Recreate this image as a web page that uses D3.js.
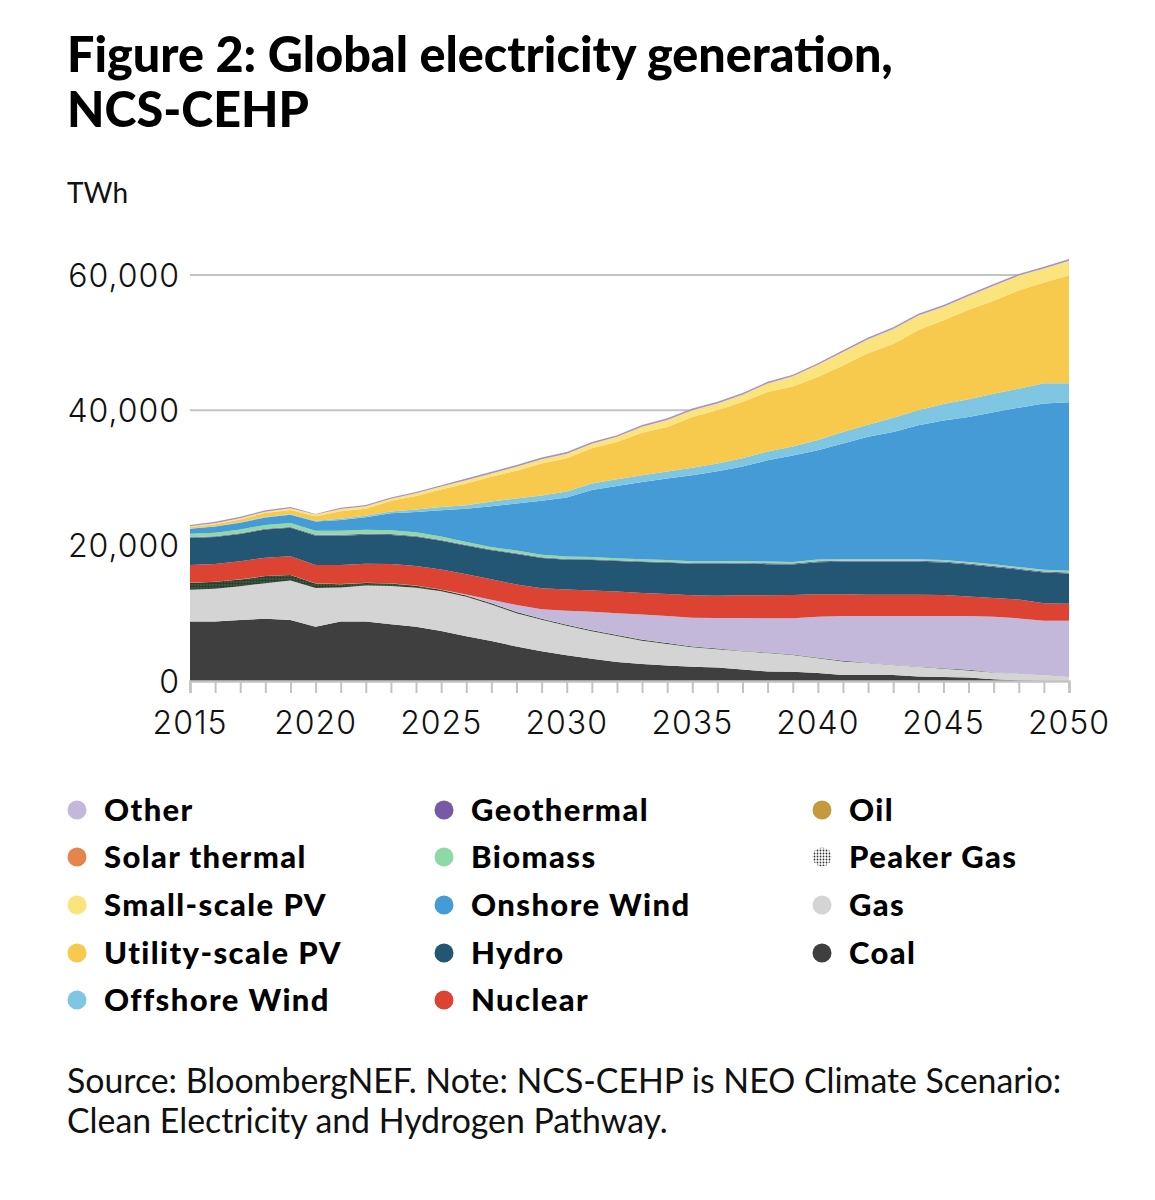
<!DOCTYPE html>
<html><head><meta charset="utf-8">
<script src="https://cdn.jsdelivr.net/npm/d3@7"></script>
<style>body{margin:0;background:#fff}</style>
</head><body><svg id="c" width="1155" height="1200"></svg>
<script>
// ---- data (TWh) ----
const years = d3.range(2015, 2051);
const coal = [8800,8800,9000,9200,9000,8000,8800,8800,8400,8000, 7400,6600,5900,5100,4400,3800,3300,2800,2500,2300, 2100,2000,1700,1400,1350,1200,900,900,900,650, 600,500,250,100,50,0];
const gas = [4700,4850,5000,5250,5850,5750,5000,5300,5650,5770, 5850,5850,5400,4900,4650,4350,4050,3850,3450,3180, 2900,2700,2700,2750,2500,2150,2000,1750,1470,1450, 1200,1050,1020,950,800,600];
const peakerGas = [1000,1000,1000,1050,800,650,500,400,350,300, 250,200,200,200,150,150,150,150,150,120, 100,100,50,50,50,100,100,50,30,50, 100,100,30,0,0,0];
const oil = [30,30,30,30,30,30,30,30,30,30, 20,20,20,20,20,20,20,20,20,20, 10,10,10,10,10,10,10,10,10,10, 0,0,0,0,0,0];
const other = [0,0,0,0,0,0,0,0,0,0, 0,100,500,1000,1400,2050,2700,3200,3700,4000, 4250,4500,4850,5050,5350,6050,6600,6900,7200,7450, 7700,7950,8200,8200,8050,8300];
const nuclear = [2600,2600,2650,2700,2750,2700,2800,2800,2850,2900, 2950,3000,3000,3050,3100,3150,3150,3200,3200,3250, 3300,3300,3350,3400,3450,3300,3200,3150,3150,3150, 3100,2900,2750,2800,2600,2500];
const hydro = [4000,4000,4050,4150,4200,4350,4350,4300,4300,4300, 4250,4200,4300,4500,4450,4400,4500,4500,4550,4600, 4650,4700,4700,4600,4500,4750,4800,4850,4850,4850, 4800,4700,4600,4400,4550,4500];
const geothermal = [120,120,120,120,130,130,130,130,130,130, 130,120,100,100,120,120,120,120,120,130, 130,130,130,140,140,150,150,150,150,150, 150,150,150,150,150,150];
const biomass = [500,520,550,570,600,600,600,600,580,550, 500,450,400,400,380,350,330,300,300,280, 270,270,250,250,250,250,250,250,250,250, 250,250,250,250,250,250];
const onshoreWind = [750,900,1000,1100,1200,1350,1600,1850,2500,3000, 3900,4900,6000,6950,7950,8730,9900,10680,11430,12040, 12700,13300,13970,14960,15710,16150,17100,18100,18800,19800, 20600,21400,22450,23550,24550,24900];
const offshoreWind = [50,50,70,80,100,120,150,200,250,350, 450,550,700,750,800,900,950,1000,1000,1050, 1100,1150,1200,1300,1350,1500,1700,1750,2100,2200, 2450,2650,2750,2800,3000,2800];
const utilityPV = [200,300,400,550,600,650,1100,1050,1600,2000, 2600,3200,3650,4100,4700,4900,5200,5500,6250,6550, 7500,7850,8300,8800,8850,9300,9800,10550,10900,11800, 12350,13150,13750,14500,14900,15900];
const solarThermal = [10,10,10,10,10,10,10,10,10,10, 10,10,10,10,10,10,10,10,10,10, 10,10,10,10,10,10,10,10,10,10, 10,10,10,10,10,10];
const smallPV = [100,150,180,220,250,250,350,350,300,400, 420,480,500,600,650,650,700,750,900,1050, 1000,1000,1100,1250,1500,1800,2000,2100,2200,2200, 2000,2100,2200,2200,2050,2200];
const otherTop = [180,200,200,200,200,100,200,200,150,200, 200,250,250,250,250,250,250,250,250,250, 250,250,250,250,250,250,250,250,250,250, 250,250,250,250,250,250];
const yTicks = [0, 20000, 40000, 60000];
const xTickLabels = [2015, 2020, 2025, 2030, 2035, 2040, 2045, 2050];

const seriesDefs = [
  {key:"Coal", vals:coal, color:"#3f3f3f"},
  {key:"Gas", vals:gas, color:"#d4d4d4"},
  {key:"Peaker Gas", vals:peakerGas, color:"url(#peakerFill)"},
  {key:"Oil", vals:oil, color:"#c49a3c"},
  {key:"Other", vals:other, color:"#c3b8da"},
  {key:"Nuclear", vals:nuclear, color:"#dd4332"},
  {key:"Hydro", vals:hydro, color:"#235673"},
  {key:"Geothermal", vals:geothermal, color:"#7759a6"},
  {key:"Biomass", vals:biomass, color:"#8edaa6"},
  {key:"Onshore Wind", vals:onshoreWind, color:"#449bd6"},
  {key:"Offshore Wind", vals:offshoreWind, color:"#7ec6e2"},
  {key:"Utility-scale PV", vals:utilityPV, color:"#f7c94c"},
  {key:"Solar thermal", vals:solarThermal, color:"#e5854c"},
  {key:"Small-scale PV", vals:smallPV, color:"#fbe47c"},
  {key:"Other top", vals:otherTop, color:"#a493cf"}
];
const colorOf = Object.fromEntries(seriesDefs.map(s => [s.key, s.color]));

const legendRows = [
  ["Other", "Geothermal", "Oil"],
  ["Solar thermal", "Biomass", "Peaker Gas"],
  ["Small-scale PV", "Onshore Wind", "Gas"],
  ["Utility-scale PV", "Hydro", "Coal"],
  ["Offshore Wind", "Nuclear", null]
];

// ---- chart ----
const svg = d3.select("#c");
svg.append("rect").attr("width",1155).attr("height",1200).attr("fill","#fff");
const defs = svg.append("defs");
const pf = defs.append("pattern").attr("id","peakerFill").attr("patternUnits","userSpaceOnUse").attr("width",3).attr("height",3);
pf.append("rect").attr("width",3).attr("height",3).attr("fill","#2f6a3d");
pf.append("circle").attr("cx",1.5).attr("cy",1.5).attr("r",1.3).attr("fill","#333");
const pl = defs.append("pattern").attr("id","peakerLegend").attr("patternUnits","userSpaceOnUse").attr("width",3).attr("height",3);
pl.append("rect").attr("width",3).attr("height",3).attr("fill","#fff");
pl.append("circle").attr("cx",1.5).attr("cy",1.5).attr("r",0.9).attr("fill","#333");

const x = d3.scaleLinear().domain([2015, 2050]).range([190, 1069]);
const y = d3.scaleLinear().domain([0, 60000]).range([681, 275]);

const rows = years.map((yr, i) => {
  const r = {year: yr};
  seriesDefs.forEach(s => r[s.key] = s.vals[i]);
  return r;
});
const stack = d3.stack().keys(seriesDefs.map(s => s.key));
const stacked = stack(rows);

// gridlines
svg.append("g").selectAll("line").data(yTicks.filter(t => t > 0)).join("line")
  .attr("x1", 190).attr("x2", 1069)
  .attr("y1", d => y(d)).attr("y2", d => y(d))
  .attr("stroke", "#c3c3c3").attr("stroke-width", 2);

const area = d3.area().x(d => x(d.data.year)).y0(d => y(d[0])).y1(d => y(d[1]));
svg.append("g").selectAll("path").data(stacked).join("path")
  .attr("d", area).attr("fill", d => colorOf[d.key]);

// x axis
const xAxis = d3.axisBottom(x).tickValues(years).tickSize(12).tickFormat("");
const gx = svg.append("g").attr("transform", "translate(0,681)").call(xAxis);
gx.select(".domain").attr("stroke", "#c3c3c3").attr("stroke-width", 2.5);
gx.selectAll(".tick line").attr("stroke", "#c3c3c3").attr("stroke-width", 2);
svg.append("g").selectAll("text").data(xTickLabels).join("text")
  .attr("x", d => x(d)).attr("y", 734).attr("text-anchor", "middle")
  .attr("font-family", "Inter, sans-serif").attr("font-weight", 300).attr("font-size", 32)
  .attr("letter-spacing", 1)
  .attr("fill", "#111").text(d => d);

// y axis labels
const fmt = d3.format(",");
svg.append("g").selectAll("text").data(yTicks).join("text")
  .attr("x", 180).attr("y", d => y(d)).attr("dy", "0.36em").attr("text-anchor", "end")
  .attr("font-family", "Inter, sans-serif").attr("font-weight", 300).attr("font-size", 32)
  .attr("letter-spacing", 1)
  .attr("fill", "#111").text(d => fmt(d));

// titles
function fit(sel, target) {
  const w = sel.node().getComputedTextLength();
  const fs = parseFloat(sel.attr("font-size"));
  sel.attr("font-size", (fs * target / w).toFixed(2));
}
const t1 = svg.append("text").attr("x", 67).attr("y", 72).attr("font-family", "Lato, sans-serif")
  .attr("font-weight", 900).attr("font-size", 40).attr("fill", "#000").text("Figure 2: Global electricity generation,");
fit(t1, 826);
svg.append("text").attr("x", 67).attr("y", 127).attr("font-family", "Lato, sans-serif")
  .attr("font-weight", 900).attr("font-size", t1.attr("font-size")).attr("fill", "#000").text("NCS-CEHP");
svg.append("text").attr("x", 67).attr("y", 203).attr("font-family", "Lato, sans-serif")
  .attr("font-weight", 400).attr("font-size", 28).attr("fill", "#111").text("TWh");

// legend
const colX = [77, 444, 822];
const rowY = [810, 857, 905, 953, 1000];
const lg = svg.append("g");
legendRows.forEach((row, ri) => row.forEach((k, ci) => {
  if (!k) return;
  lg.append("circle").attr("cx", colX[ci]).attr("cy", rowY[ri]).attr("r", 9.5)
    .attr("fill", k === "Peaker Gas" ? "url(#peakerLegend)" : colorOf[k]);
  lg.append("text").attr("x", colX[ci] + 27).attr("y", rowY[ri]).attr("dy", "0.36em")
    .attr("font-family", "Lato, sans-serif").attr("font-weight", 900).attr("font-size", 31)
    .attr("letter-spacing", 1.4)
    .attr("fill", "#000").text(k);
}));

// footnote
const f1 = svg.append("text").attr("x", 67).attr("y", 1093).attr("font-family", "Lato, sans-serif")
  .attr("font-weight", 400).attr("font-size", 28).attr("fill", "#111")
  .text("Source: BloombergNEF. Note: NCS-CEHP is NEO Climate Scenario:");
fit(f1, 995);
svg.append("text").attr("x", 67).attr("y", 1133).attr("font-family", "Lato, sans-serif")
  .attr("font-weight", 400).attr("font-size", f1.attr("font-size")).attr("fill", "#111")
  .text("Clean Electricity and Hydrogen Pathway.");
</script></body></html>
